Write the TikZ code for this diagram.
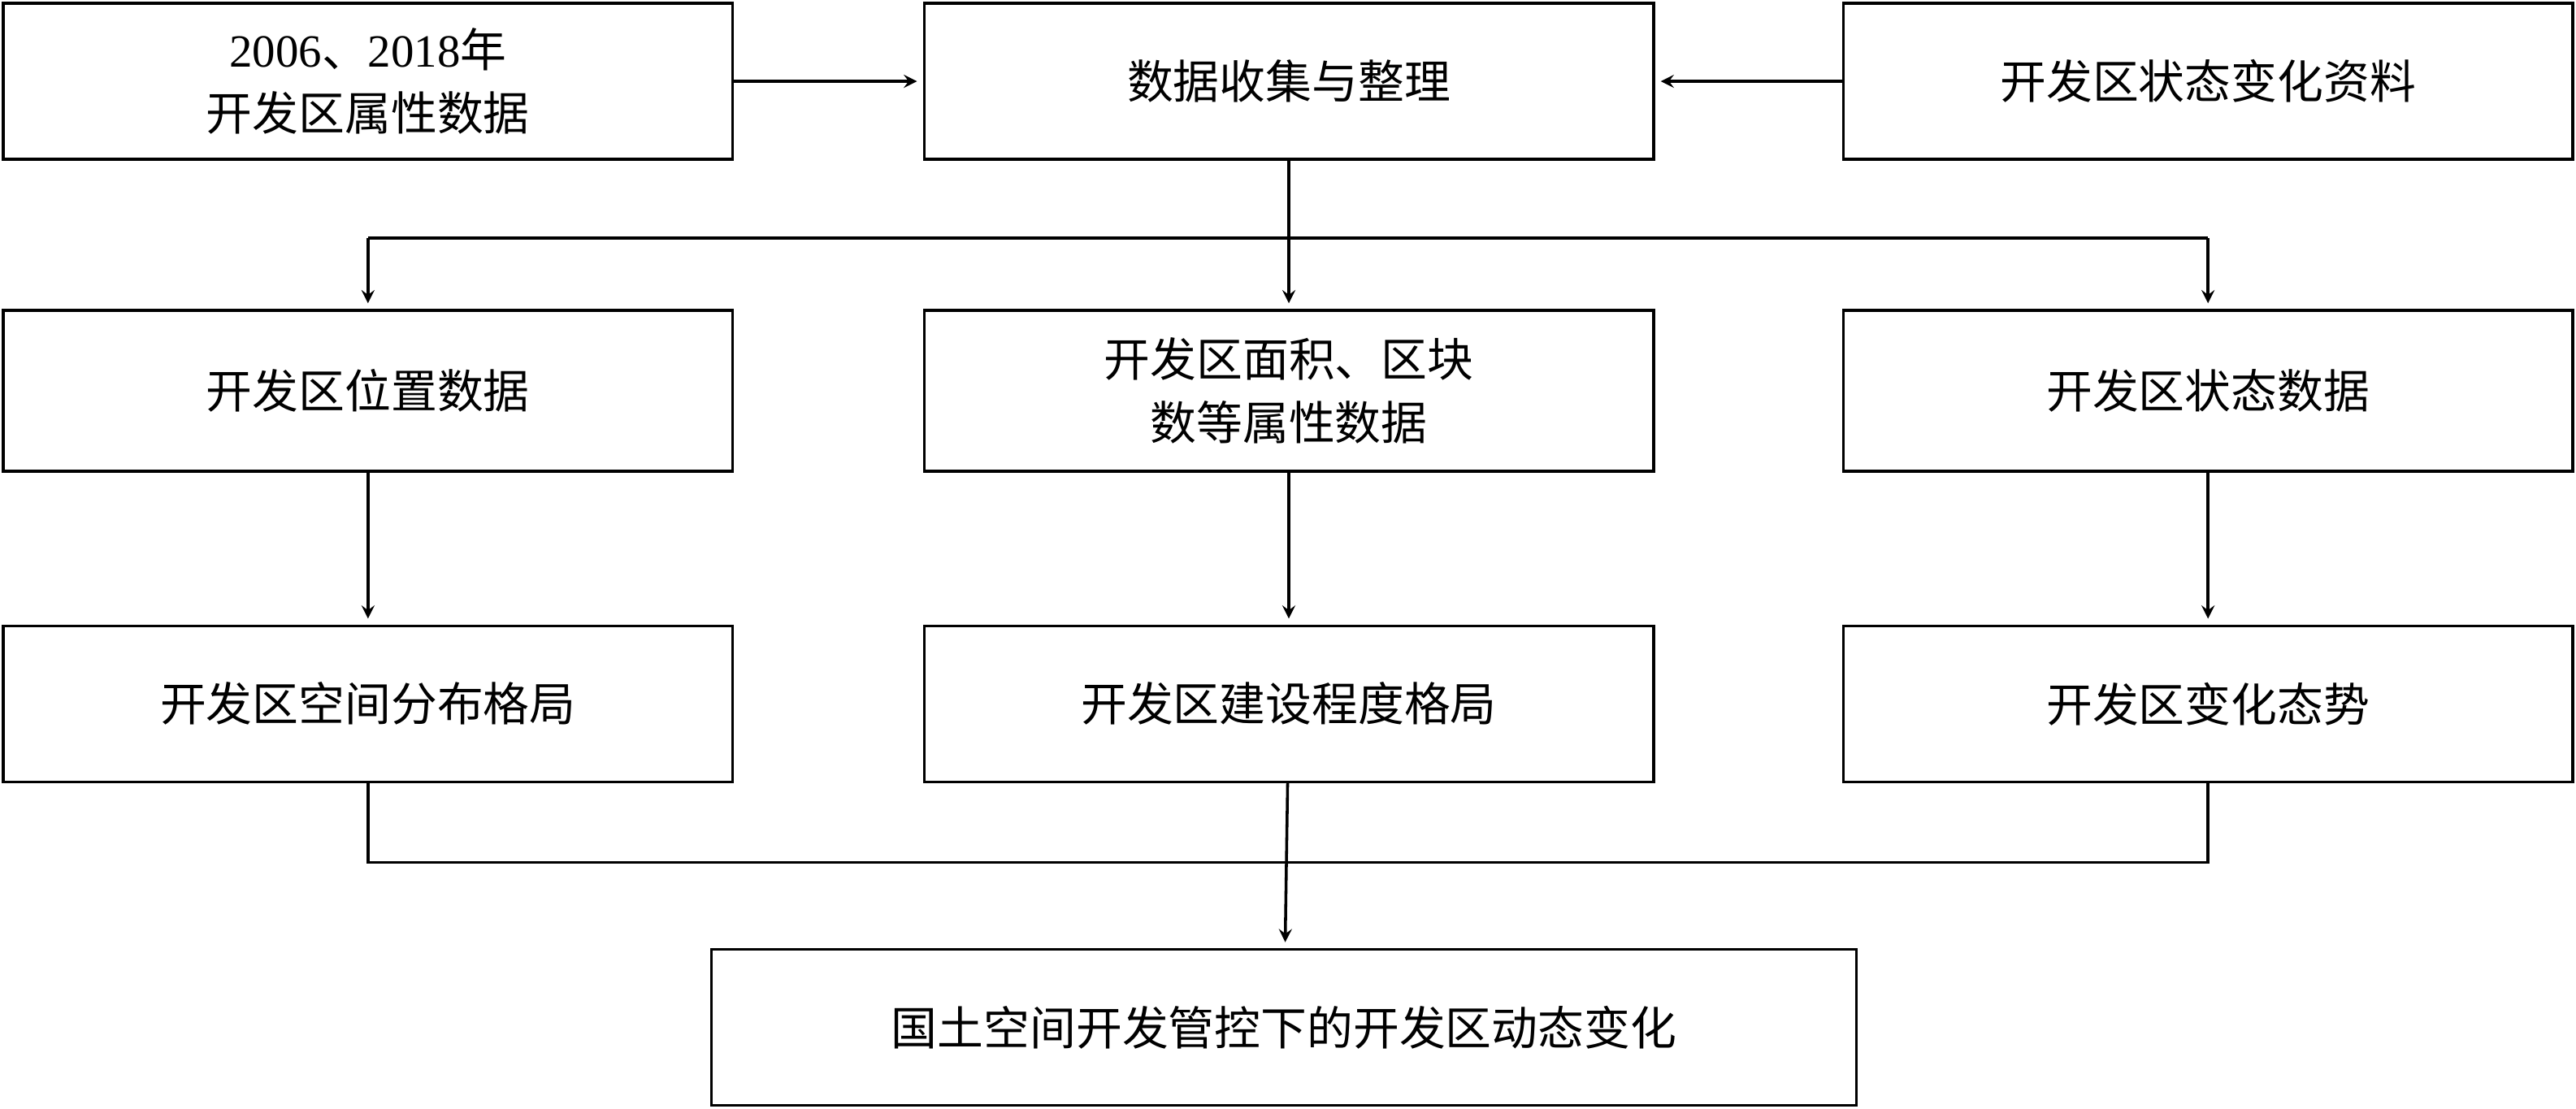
\documentclass[tikz,border=0pt]{standalone}
\usepackage{fontspec}
\setmainfont{Liberation Serif}
\newfontfamily\cjk{Noto Sans CJK SC}
\usetikzlibrary{positioning,calc}

\begin{document}
\begin{tikzpicture}
            [
            x=0.02cm, y=-0.02cm,
            box/.style={draw, line width=1pt, minimum width=8.88cm,
                minimum height=1.9cm, align=center, inner sep=2pt,
                font=\fontsize{16}{22}\selectfont\cjk},
            arr/.style={->, >=stealth, line width=1pt, shorten >=2pt},
            link/.style={line width=1pt}
            ]
            \useasboundingbox (0,0) rectangle (1568,675);

            % first row
            \node (attr) [box] at (224,49.5) {{\rmfamily 2006}、{\rmfamily 2018}年\\开发区属性数据};
            \node (collect) [box] at (784.5,49.5) {数据收集与整理};
            \node (state) [box] at (1344,49.5) {开发区状态变化资料};

            % second row
            \node (pos) [box, minimum height=1.96cm] at (224,238) {开发区位置数据};
            \node (area) [box, minimum height=1.96cm] at (784.5,238) {开发区面积、区块\\数等属性数据};
            \node (sdata) [box, minimum height=1.96cm] at (1344,238) {开发区状态数据};

            % third row
            \node (dist) [box] at (224,428.5) {开发区空间分布格局};
            \node (build) [box] at (784.5,428.5) {开发区建设程度格局};
            \node (trend) [box] at (1344,428.5) {开发区变化态势};

            \node (dyn) [box, minimum width=13.94cm] at (781.5,625.5) {国土空间开发管控下的开发区动态变化};

            \coordinate (fork) at (784.5,145);
            \coordinate (join) at (784.5,525);

            \draw [arr] (attr) -- (collect);
            \draw [arr] (state) -- (collect);
            \draw [link] (collect.south) -- (fork);
            \draw [link] (fork -| pos.north) -- (fork -| sdata.north);
            \foreach \i in {pos,area,sdata}
            \draw [arr] (fork -| \i.north) -- (\i.north);
            \foreach \i/\j in {pos/dist,area/build,sdata/trend}
            \draw [arr] (\i) -- (\j);
            \draw [link] (dist.south) -- (dist.south |- join)
                -- (trend.south |- join) -- (trend.south);
            \draw [arr] (build) -- (dyn);
        \end{tikzpicture}
\end{document}
